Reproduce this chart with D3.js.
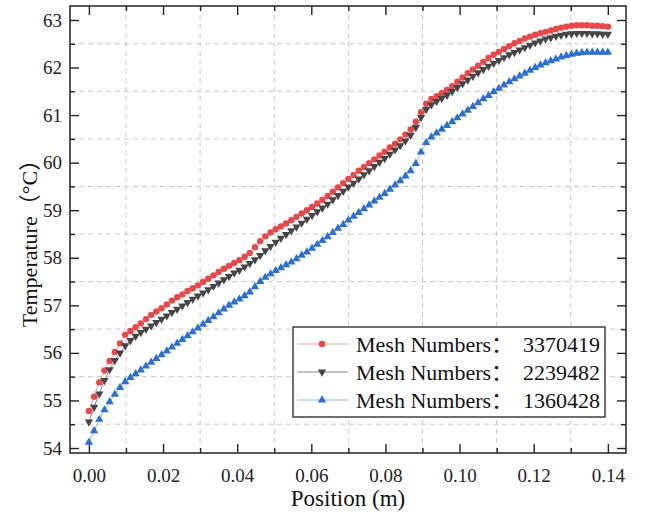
<!DOCTYPE html>
<html>
<head>
<meta charset="utf-8">
<script src="https://cdn.jsdelivr.net/npm/d3@7"></script>
<style>
  html, body { margin: 0; padding: 0; background: #fff; }
  svg { display: block; }
  svg text { font-family: "Liberation Serif", "Times New Roman", "Noto Sans CJK SC", serif; }
</style>
</head>
<body>
<div id="chart"></div>
<script>
// sample positions along the channel (m)
const position = [
  0.0000,0.0014,0.0028,0.0042,0.0056,0.0070,0.0084,0.0098,0.0112,0.0126,
  0.0140,0.0154,0.0168,0.0182,0.0196,0.0210,0.0224,0.0238,0.0252,0.0266,
  0.0280,0.0294,0.0308,0.0322,0.0336,0.0350,0.0364,0.0378,0.0392,0.0406,
  0.0420,0.0434,0.0448,0.0462,0.0476,0.0490,0.0504,0.0518,0.0532,0.0546,
  0.0560,0.0574,0.0588,0.0602,0.0616,0.0630,0.0644,0.0658,0.0672,0.0686,
  0.0700,0.0714,0.0728,0.0742,0.0756,0.0770,0.0784,0.0798,0.0812,0.0826,
  0.0840,0.0854,0.0868,0.0882,0.0896,0.0910,0.0924,0.0938,0.0952,0.0966,
  0.0980,0.0994,0.1008,0.1022,0.1036,0.1050,0.1064,0.1078,0.1092,0.1106,
  0.1120,0.1134,0.1148,0.1162,0.1176,0.1190,0.1204,0.1218,0.1232,0.1246,
  0.1260,0.1274,0.1288,0.1302,0.1316,0.1330,0.1344,0.1358,0.1372,0.1386,
  0.1400
];

const mesh3370419 = [
  54.78,55.08,55.38,55.63,55.83,56.02,56.20,56.38,56.46,56.54,
  56.62,56.71,56.80,56.87,56.94,57.02,57.10,57.17,57.23,57.30,
  57.36,57.42,57.49,57.56,57.63,57.70,57.77,57.83,57.89,57.95,
  58.02,58.10,58.22,58.35,58.45,58.53,58.60,58.66,58.72,58.79,
  58.86,58.93,59.00,59.07,59.14,59.22,59.30,59.39,59.48,59.57,
  59.66,59.74,59.83,59.91,59.99,60.07,60.15,60.23,60.32,60.40,
  60.49,60.59,60.70,60.86,61.06,61.24,61.34,61.40,61.46,61.53,
  61.61,61.70,61.79,61.88,61.96,62.04,62.12,62.20,62.27,62.33,
  62.39,62.45,62.51,62.56,62.61,62.65,62.69,62.72,62.75,62.78,
  62.81,62.84,62.86,62.88,62.89,62.89,62.89,62.88,62.88,62.87,
  62.86
];

const mesh2239482 = [
  54.55,54.86,55.14,55.42,55.65,55.84,56.00,56.15,56.26,56.35,
  56.43,56.50,56.57,56.64,56.71,56.78,56.85,56.92,56.99,57.06,
  57.13,57.20,57.26,57.33,57.40,57.47,57.54,57.61,57.68,57.74,
  57.81,57.88,57.96,58.05,58.15,58.24,58.33,58.41,58.49,58.57,
  58.65,58.73,58.81,58.89,58.97,59.05,59.13,59.22,59.31,59.40,
  59.49,59.57,59.66,59.75,59.83,59.92,60.01,60.09,60.18,60.27,
  60.36,60.46,60.58,60.74,60.95,61.12,61.22,61.29,61.35,61.42,
  61.50,61.58,61.66,61.74,61.82,61.89,61.96,62.03,62.09,62.15,
  62.21,62.27,62.32,62.37,62.42,62.47,62.52,62.56,62.60,62.63,
  62.66,62.68,62.70,62.71,62.72,62.72,62.72,62.71,62.71,62.70,
  62.70
];

const mesh1360428 = [
  54.12,54.36,54.60,54.80,54.97,55.13,55.27,55.39,55.48,55.56,
  55.64,55.72,55.80,55.88,55.96,56.04,56.12,56.20,56.28,56.36,
  56.44,56.52,56.60,56.68,56.76,56.84,56.92,57.00,57.07,57.13,
  57.20,57.28,57.39,57.50,57.59,57.66,57.73,57.79,57.85,57.91,
  57.98,58.05,58.12,58.20,58.28,58.36,58.44,58.53,58.62,58.70,
  58.79,58.87,58.95,59.03,59.11,59.19,59.27,59.35,59.44,59.53,
  59.62,59.72,59.83,59.98,60.22,60.42,60.54,60.62,60.70,60.78,
  60.86,60.94,61.02,61.10,61.18,61.26,61.34,61.41,61.49,61.56,
  61.63,61.70,61.76,61.82,61.88,61.94,62.00,62.05,62.10,62.14,
  62.18,62.22,62.25,62.28,62.30,62.31,62.32,62.32,62.32,62.32,
  62.32
];

const seriesNames = ["Mesh Numbers：", "Mesh Numbers：", "Mesh Numbers："];
const meshCounts = ["3370419", "2239482", "1360428"];

const xTicks = [0, 0.02, 0.04, 0.06, 0.08, 0.10, 0.12, 0.14];
const xMinor = [0.01, 0.03, 0.05, 0.07, 0.09, 0.11, 0.13];
const yTicks = [54, 55, 56, 57, 58, 59, 60, 61, 62, 63];
const yMinor = [54.5, 55.5, 56.5, 57.5, 58.5, 59.5, 60.5, 61.5, 62.5];

const width = 648, height = 525;

const x = d3.scaleLinear().domain([-0.0051, 0.1449]).range([70, 626]);
const y = d3.scaleLinear().domain([53.895, 63.294]).range([453, 6]);
const [plotLeft, plotRight] = x.range();
const [plotBottom, plotTop] = y.range();

const styles = [
  {values: mesh3370419, color: "#e8484b", line: "#f2a3a4", shape: "circle"},
  {values: mesh2239482, color: "#454545", line: "#8a8a8a", shape: "down"},
  {values: mesh1360428, color: "#2c6fd1", line: "#93b7ea", shape: "up"}
];

const svg = d3.select("#chart").append("svg")
    .attr("width", width)
    .attr("height", height)
    .attr("viewBox", [0, 0, width, height]);

svg.append("rect").attr("width", width).attr("height", height).attr("fill", "#fff");

// dashed grid at the minor positions
const grid = svg.append("g")
    .attr("stroke", "#c8c8c8")
    .attr("stroke-width", 1)
    .attr("stroke-dasharray", "5,4");
grid.selectAll(".gx").data(xMinor).join("line")
    .attr("x1", d => x(d)).attr("x2", d => x(d))
    .attr("y1", plotTop).attr("y2", plotBottom);
grid.selectAll(".gy").data(yMinor).join("line")
    .attr("y1", d => y(d)).attr("y2", d => y(d))
    .attr("x1", plotLeft).attr("x2", plotRight);

// axes, ticks pointing inward on all four sides
function styleAxis(g) {
  g.attr("font-family", null);
  g.select(".domain").remove();
  g.selectAll(".tick line").attr("stroke", "#222").attr("stroke-width", 1.4);
  g.selectAll(".tick text").attr("fill", "#222").attr("font-size", 19);
}

svg.append("g").attr("transform", `translate(0,${plotBottom})`)
    .call(d3.axisBottom(x).tickValues(xTicks).tickFormat(d3.format(".2f")).tickSize(-9).tickPadding(16))
    .call(styleAxis);
svg.append("g").attr("transform", `translate(0,${plotBottom})`)
    .call(d3.axisBottom(x).tickValues(xMinor).tickFormat("").tickSize(-5))
    .call(styleAxis);
svg.append("g").attr("transform", `translate(0,${plotTop})`)
    .call(d3.axisTop(x).tickValues(xTicks).tickFormat("").tickSize(-9))
    .call(styleAxis);
svg.append("g").attr("transform", `translate(0,${plotTop})`)
    .call(d3.axisTop(x).tickValues(xMinor).tickFormat("").tickSize(-5))
    .call(styleAxis);

svg.append("g").attr("transform", `translate(${plotLeft},0)`)
    .call(d3.axisLeft(y).tickValues(yTicks).tickFormat(d3.format("d")).tickSize(-9).tickPadding(8))
    .call(styleAxis);
svg.append("g").attr("transform", `translate(${plotLeft},0)`)
    .call(d3.axisLeft(y).tickValues(yMinor).tickFormat("").tickSize(-5))
    .call(styleAxis);
svg.append("g").attr("transform", `translate(${plotRight},0)`)
    .call(d3.axisRight(y).tickValues(yTicks).tickFormat("").tickSize(-9))
    .call(styleAxis);
svg.append("g").attr("transform", `translate(${plotRight},0)`)
    .call(d3.axisRight(y).tickValues(yMinor).tickFormat("").tickSize(-5))
    .call(styleAxis);

// frame
svg.append("rect")
    .attr("x", plotLeft).attr("y", plotTop)
    .attr("width", plotRight - plotLeft).attr("height", plotBottom - plotTop)
    .attr("fill", "none")
    .attr("stroke", "#222")
    .attr("stroke-width", 1.5);

// markers
function marker(sel, shape, color) {
  if (shape === "circle") {
    sel.append("circle").attr("r", 3.2).attr("fill", color);
  } else {
    sel.append("path")
        .attr("d", d3.symbol(d3.symbolTriangle, 30)())
        .attr("transform", shape === "down" ? "rotate(180)" : null)
        .attr("fill", color);
  }
}

const line = d3.line().x((d, i) => x(position[i])).y(d => y(d));

styles.forEach(s => {
  svg.append("path")
      .attr("d", line(s.values))
      .attr("fill", "none")
      .attr("stroke", s.line)
      .attr("stroke-width", 1);
});

styles.forEach(s => {
  svg.append("g").selectAll("g")
    .data(s.values)
    .join("g")
      .attr("transform", (d, i) => `translate(${x(position[i])},${y(d)})`)
      .each(function() { marker(d3.select(this), s.shape, s.color); });
});

// legend
const legend = svg.append("g").attr("transform", "translate(293,327)");
legend.append("rect")
    .attr("width", 312).attr("height", 90)
    .attr("fill", "#fff")
    .attr("stroke", "#222")
    .attr("stroke-width", 1.3);

const row = legend.selectAll(".row")
  .data(styles)
  .join("g")
    .attr("transform", (d, i) => `translate(0,${17 + i * 28})`);

row.append("line")
    .attr("x1", 4).attr("x2", 55)
    .attr("stroke", d => d.line)
    .attr("stroke-width", 1);
row.each(function(d) {
  const g = d3.select(this).append("g").attr("transform", "translate(29,0)");
  marker(g, d.shape, d.color);
});
row.append("text")
    .attr("x", 63).attr("dy", "0.35em")
    .attr("font-size", 22)
    .attr("fill", "#111")
    .text((d, i) => seriesNames[i]);
row.append("text")
    .attr("x", 307).attr("dy", "0.35em")
    .attr("text-anchor", "end")
    .attr("font-size", 22)
    .attr("fill", "#111")
    .text((d, i) => meshCounts[i]);

// axis titles
svg.append("text")
    .attr("x", (plotLeft + plotRight) / 2)
    .attr("y", 506)
    .attr("text-anchor", "middle")
    .attr("font-size", 23)
    .attr("fill", "#111")
    .text("Position (m)");

svg.append("text")
    .attr("transform", `translate(37,238) rotate(-90)`)
    .attr("text-anchor", "middle")
    .attr("font-size", 22)
    .attr("fill", "#111")
    .text("Temperature（°C）");
</script>
</body>
</html>
